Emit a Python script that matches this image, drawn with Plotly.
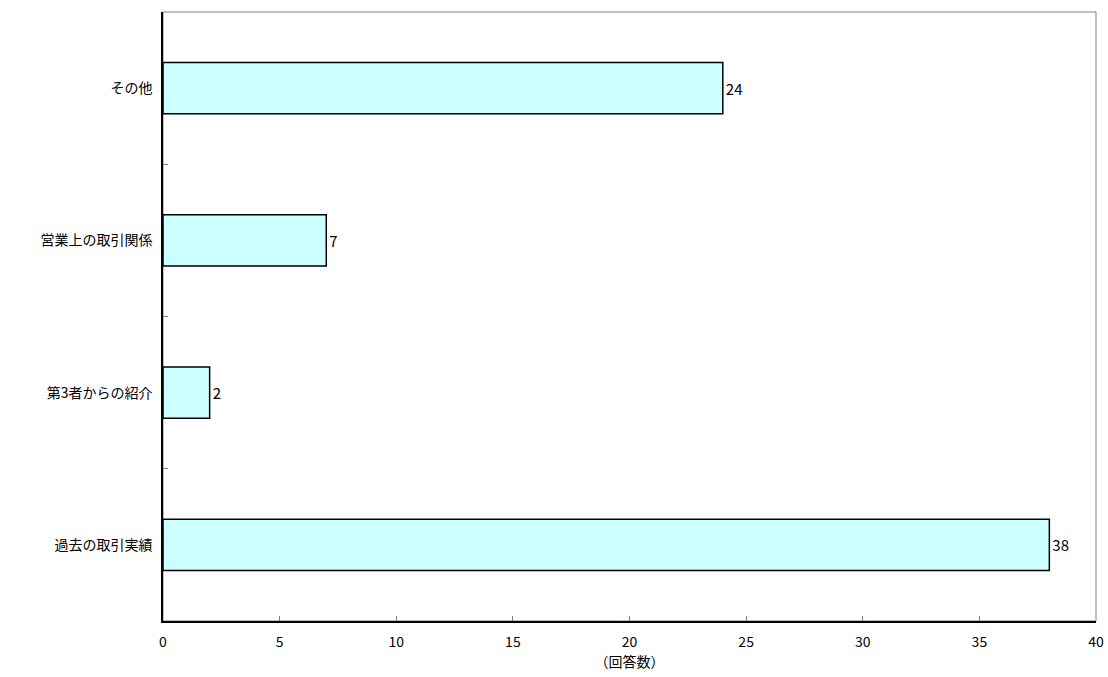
import plotly.graph_objects as go

# Response counts per category (bottom to top)
categories = ["過去の取引実績", "第3者からの紹介", "営業上の取引関係", "その他"]
counts = [38, 2, 7, 24]
x_ticks = [0, 5, 10, 15, 20, 25, 30, 35, 40]

FONT = "Noto Sans CJK JP"

fig = go.Figure(
    go.Bar(
        x=counts,
        y=categories,
        orientation="h",
        width=0.335,
        marker=dict(color="#CCFFFF", line=dict(color="#000000", width=1.5)),
        text=[str(v) for v in counts],
        textposition="outside",
        textfont=dict(family=FONT, size=15, color="#000000"),
        cliponaxis=False,
    )
)

fig.update_layout(
    width=1108,
    height=677,
    margin=dict(l=163, r=12, t=12, b=56, autoexpand=False),
    paper_bgcolor="#FFFFFF",
    plot_bgcolor="#FFFFFF",
    font=dict(family=FONT, size=14, color="#000000"),
    showlegend=False,
    shapes=[
        dict(
            type="rect", xref="paper", yref="paper",
            x0=0, y0=0, x1=1, y1=1,
            line=dict(color="#808080", width=1),
            layer="below",
        )
    ],
)

fig.update_xaxes(
    range=[0, 40],
    tickvals=x_ticks,
    ticktext=[str(v) for v in x_ticks],
    ticks="inside",
    ticklen=5,
    tickcolor="#808080",
    showgrid=False,
    zeroline=False,
    showline=True,
    linecolor="#000000",
    linewidth=1.5,
    automargin=False,
    ticklabelstandoff=7,
    tickfont=dict(family=FONT, size=14),
    title=dict(text="（回答数）", font=dict(family=FONT, size=14), standoff=0),
)

fig.update_yaxes(
    categoryorder="array",
    categoryarray=categories,
    tickson="boundaries",
    ticks="inside",
    ticklen=5,
    tickcolor="#808080",
    showgrid=False,
    zeroline=False,
    showline=True,
    linecolor="#000000",
    linewidth=1.5,
    automargin=False,
    ticklabelstandoff=6,
    tickfont=dict(family=FONT, size=14),
)

fig.write_html("out.html")
